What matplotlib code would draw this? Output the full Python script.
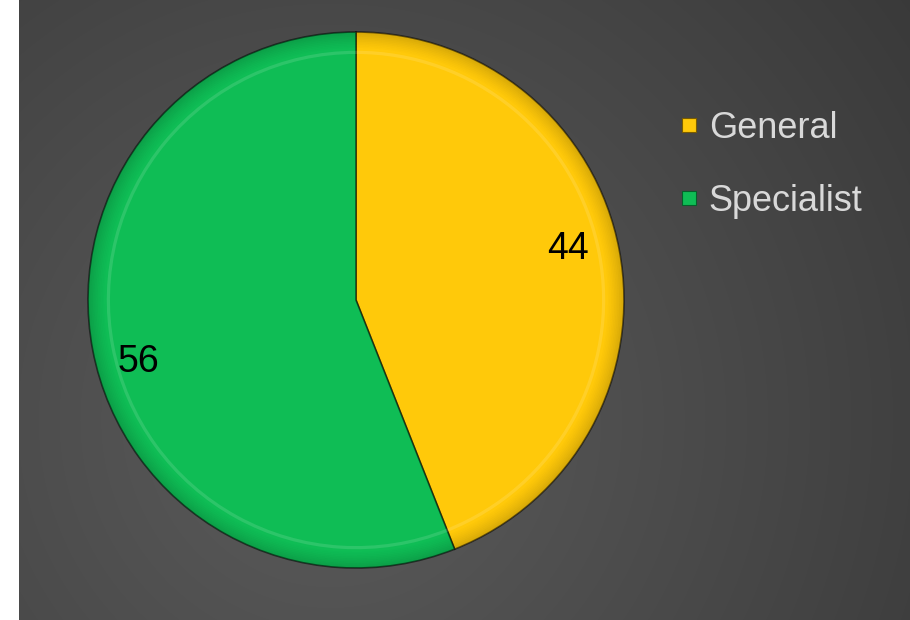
"""
Pie chart: General vs Specialist, on a dark gradient slide background.
"""

import matplotlib
matplotlib.use('Agg')
import matplotlib.pyplot as plt
from matplotlib.lines import Line2D
from matplotlib.patches import Wedge
import numpy as np

plt.rcParams['font.family'] = ['Liberation Sans', 'DejaVu Sans']

# data
LABELS = ['General', 'Specialist']
VALUES = [44, 56]

COLORS = ['#ffc90a', '#0fbd55']
EDGE_COLORS = ['#7a5c00', '#05602a']
TEXT_LIGHT = '#d9d9d9'

W, H = 910, 620
LEFT_STRIP = 19          # white strip on the left of the slide
CX, CY, R = 356, 300, 268  # pie centre / radius in pixels (y from top)

# label nudges (in pie radius units) so they sit where the original has them
LABEL_POS = [(0.79, 0.19), (-0.81, -0.23)]


def background(fig):
    ax = fig.add_axes([LEFT_STRIP / W, 0, 1 - LEFT_STRIP / W, 1])
    xs = np.arange(LEFT_STRIP, W)
    ys = np.arange(H)
    xx, yy = np.meshgrid(xs, ys)
    d = np.hypot(xx - 330, yy - 420)
    v = np.clip(92 - 0.048 * d, 45, 95) / 255.0
    img = np.dstack([v, v, v])
    ax.imshow(img, aspect='auto', interpolation='bilinear')
    ax.set_axis_off()


def plot(output='out.png'):
    fig = plt.figure(figsize=(W / 100, H / 100), dpi=100)
    fig.patch.set_facecolor('white')
    background(fig)

    ax = fig.add_axes([(CX - R) / W, (H - CY - R) / H, 2 * R / W, 2 * R / H])

    total = sum(VALUES)
    wedges, _, autotexts = ax.pie(
        VALUES, colors=COLORS, startangle=90, counterclock=False,
        radius=1.0, center=(0, 0), frame=True,
        autopct=lambda p: f'{p * total / 100:.0f}', pctdistance=0.82,
        wedgeprops=dict(linewidth=1.2, edgecolor=(0, 0, 0, 0.55)),
        textprops=dict(fontsize=27, color='black'),
    )
    for t, pos in zip(autotexts, LABEL_POS):
        t.set_position(pos)
        t.set_zorder(10)
    ax.set_xlim(-1, 1)
    ax.set_ylim(-1, 1)
    ax.set_axis_off()

    # bevel shading near the outer rim
    for w in wedges:
        t1, t2 = w.theta1, w.theta2
        steps = 10
        for k in range(steps):
            r_out = 1.0 - k * 0.006
            alpha = 0.05 + 0.03 * (steps - k) / steps
            ax.add_patch(Wedge((0, 0), r_out, t1, t2, width=0.006,
                               facecolor='black', alpha=alpha * (1 - k / steps) * 2,
                               edgecolor='none'))
        ax.add_patch(Wedge((0, 0), 0.93, t1, t2, width=0.012,
                           facecolor='white', alpha=0.12, edgecolor='none'))

    handles = [Line2D([], [], linestyle='none', marker='s', markersize=10,
                      markerfacecolor=c, markeredgecolor=e,
                      markeredgewidth=0.8, label=l)
               for c, e, l in zip(COLORS, EDGE_COLORS, LABELS)]
    fig.legend(handles=handles, loc='upper left',
               bbox_to_anchor=(680 / W, 1 - 111 / H),
               frameon=False, fontsize=26, labelcolor=TEXT_LIGHT,
               handlelength=0.5, handletextpad=0.3,
               labelspacing=1.05, borderaxespad=0, borderpad=0)

    fig.savefig(output, dpi=100)
    plt.close(fig)


if __name__ == '__main__':
    plot()
